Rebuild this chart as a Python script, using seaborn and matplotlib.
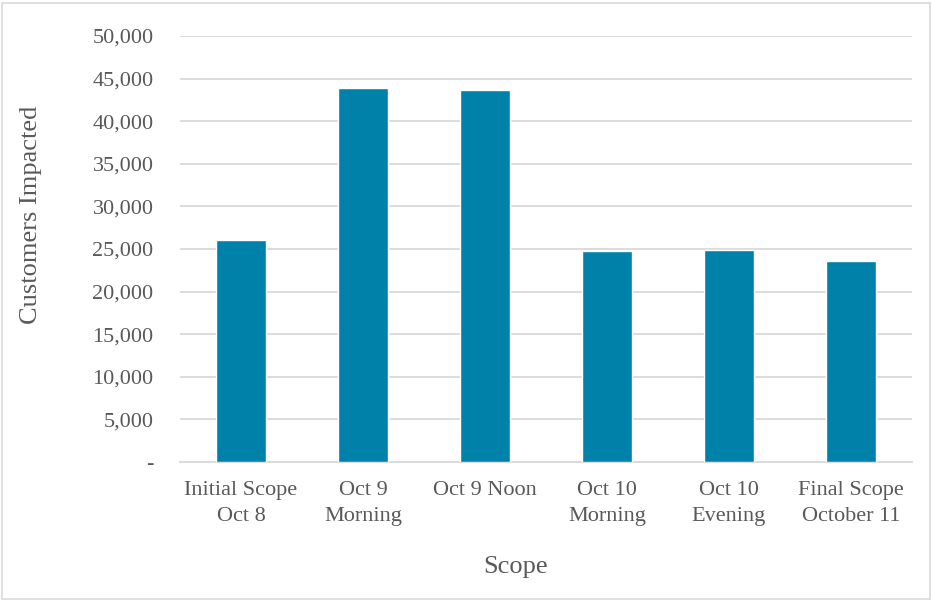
import matplotlib
matplotlib.use("Agg")
import matplotlib.pyplot as plt
import matplotlib.patches as mpatches
from matplotlib.ticker import FuncFormatter
import seaborn as sns
import pandas as pd

categories = ["Initial Scope\nOct 8", "Oct 9\nMorning", "Oct 9 Noon",
              "Oct 10\nMorning", "Oct 10\nEvening", "Final Scope\nOctober 11"]
customers = [26100, 43850, 43700, 24750, 24900, 23550]
y_ticks = [0, 5000, 10000, 15000, 20000, 25000, 30000, 35000, 40000, 45000, 50000]

df = pd.DataFrame({"Scope": categories, "Customers Impacted": customers})

sns.set_theme(style="white")
plt.rcParams["font.family"] = ["Liberation Serif", "DejaVu Serif"]

fig = plt.figure(figsize=(9.32, 6.0), dpi=100)
ax = fig.add_axes([180/932, 1-462/600, (912-180)/932, (462-36)/600])

sns.barplot(data=df, x="Scope", y="Customers Impacted", color="#0081A9",
            width=0.41, saturation=1, ax=ax, zorder=3)

ax.set_ylim(0, 50000)
ax.set_xlim(-0.5, len(categories) - 0.5)
ax.set_yticks(y_ticks)
ax.yaxis.set_major_formatter(FuncFormatter(lambda v, p: "-" if v == 0 else f"{int(v):,}"))
ax.grid(axis="y", color="#D9D9D9", linewidth=1.3, zorder=0)
ax.set_axisbelow(True)
for s in ["top", "right", "left"]:
    ax.spines[s].set_visible(False)
ax.spines["bottom"].set_color("#D9D9D9")
ax.spines["bottom"].set_linewidth(1.3)
ax.tick_params(axis="y", length=0, pad=19, labelsize=16, labelcolor="#595959")
ax.tick_params(axis="x", length=0, pad=14, labelsize=16, labelcolor="#595959")
for lbl in ax.get_xticklabels():
    lbl.set_linespacing(1.5)
ax.set_ylabel("Customers Impacted", fontsize=19, color="#595959")
ax.set_xlabel("Scope", fontsize=19, color="#595959")
ax.yaxis.set_label_coords((42 - 180) / 732, (462 - 215) / 426)
ax.xaxis.set_label_coords((516 - 180) / 732, (462 - 556) / 426)

fig.patches.append(mpatches.Rectangle((0.002, 0.002), 0.996, 0.993, transform=fig.transFigure,
                                      fill=False, edgecolor="#D9D9D9", linewidth=1.2))

fig.savefig("out.png", dpi=100)
